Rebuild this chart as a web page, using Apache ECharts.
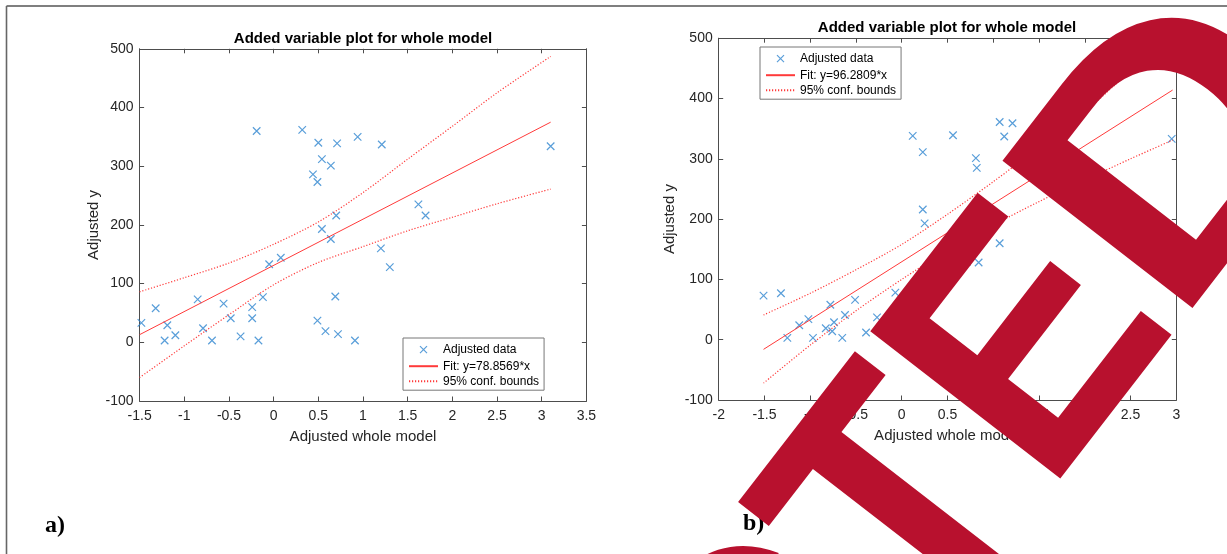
<!DOCTYPE html>
<html>
<head>
<meta charset="utf-8">
<script src="https://cdn.jsdelivr.net/npm/echarts@6/dist/echarts.min.js"></script>
<style>
  html, body { margin: 0; padding: 0; background: #fff; }
  #chart { width: 1227px; height: 554px; }
</style>
</head>
<body>
<div id="chart"></div>
<script>
// panel a) data
const aDataX = [-1.48, -1.32, -1.22, -1.19, -1.10, -0.85, -0.79, -0.69, -0.56, -0.48, -0.37, -0.24, -0.24, -0.19, -0.17, -0.12, -0.05, 0.08, 0.32, 0.44,
  0.49, 0.49, 0.50, 0.54, 0.54, 0.58, 0.64, 0.64, 0.69, 0.70, 0.71, 0.72, 0.91, 0.94, 1.20, 1.21, 1.30, 1.62, 1.70, 3.10]
const aDataY = [33, 58, 3, 29, 12, 73, 24, 3, 66, 41, 10, 41, 60, 360, 3, 77, 133, 144, 362, 286,
  273, 37, 340, 312, 193, 19, 301, 176, 78, 216, 339, 14, 3, 350, 160, 337, 128, 235, 216, 334]
const aFitX = [-1.5, 3.1]
const aFitY = [13, 375]
const aBoundX = [-1.5, -1, -0.5, 0, 0.5, 1, 1.5, 2, 2.5, 3.1]
const aUpper = [86, 110, 135, 167, 205, 255, 312, 368, 425, 487]
const aLower = [-60, -6, 47, 98, 136, 163, 190, 213, 236, 261]

// panel b) data (points hidden under the stamp are not readable)
const bDataX = [-1.51, -1.32, -1.25, -1.12, -1.02, -0.97, -0.83, -0.78, -0.76, -0.74, -0.65, -0.62, -0.51, -0.39, -0.27,
  -0.07, 0.12, 0.23, 0.23, 0.25, 0.56, 0.71, 0.81, 0.82, 0.84, 1.07, 1.12, 1.21, 1.07, 2.95]
const bDataY = [73, 77, 3, 24, 34, 3, 19, 58, 14, 29, 3, 41, 66, 12, 37,
  78, 338, 311, 216, 193, 339, 129, 301, 285, 128, 361, 337, 359, 160, 333]
const bFitX = [-1.51, 2.96]
const bFitY = [-16, 414]
const bBoundX = [-1.51, -1, -0.5, 0, 0.5, 1, 1.5, 2, 2.5, 2.96]
const bUpper = [41, 77, 116, 158, 208, 262, 319, 378, 445, 497]
const bLower = [-72, -9, 48, 100, 148, 190, 229, 265, 300, 331]

const titleText = 'Added variable plot for whole model'
const xName = 'Adjusted whole model'
const yName = 'Adjusted y'
const legendA = ['Adjusted data', 'Fit: y=78.8569*x', '95% conf. bounds']
const legendB = ['Adjusted data', 'Fit: y=96.2809*x', '95% conf. bounds']

const FONT = '"Liberation Sans", Arial, Helvetica, sans-serif'
const AXIS = '#4d4d4d'
const BLUE = '#2f86d0'
const RED = '#ff3a3a'
const XMARK = 'path://M0,0L1,1M1,0L0,1'
const XMARK_LEGEND = 'path://M-1.57,-0.5L-1.57,-0.5M0,0L1,1M1,0L0,1M2.57,1.5L2.57,1.5'

const pairs = (xs, ys) => xs.map((x, i) => [x, ys[i]])

function xAxis(grid, min, max, top) {
  return {
    type: 'value', gridIndex: grid, min: min, max: max, interval: 0.5,
    position: top ? 'top' : 'bottom',
    name: top ? '' : xName, nameLocation: 'middle', nameGap: 28,
    nameTextStyle: { fontFamily: FONT, fontSize: 15, color: '#262626' },
    axisLine: { show: true, onZero: false, lineStyle: { color: AXIS, width: 1 } },
    axisTick: { show: true, inside: true, length: 4.5, lineStyle: { color: AXIS } },
    axisLabel: { show: !top, fontFamily: FONT, fontSize: 14, color: '#262626', margin: 8, showMinLabel: true, showMaxLabel: true },
    splitLine: { show: false }
  }
}

function yAxis(grid, gap, right) {
  return {
    type: 'value', gridIndex: grid, min: -100, max: 500, interval: 100,
    position: right ? 'right' : 'left',
    name: right ? '' : yName, nameLocation: 'middle', nameGap: gap,
    nameTextStyle: { fontFamily: FONT, fontSize: 15, color: '#262626' },
    axisLine: { show: true, onZero: false, lineStyle: { color: AXIS, width: 1 } },
    axisTick: { show: true, inside: true, length: 4.5, lineStyle: { color: AXIS } },
    axisLabel: { show: !right, fontFamily: FONT, fontSize: 14, color: '#262626', margin: 6, showMinLabel: true, showMaxLabel: true },
    splitLine: { show: false }
  }
}

function panelSeries(ax, names, dx, dy, fx, fy, bx, up, lo) {
  const common = { xAxisIndex: ax, yAxisIndex: ax, silent: true }
  const bound = {
    type: 'line', name: names[2], symbol: 'none', smooth: 0.3,
    itemStyle: { color: RED },
    lineStyle: { color: RED, width: 1.2, type: [1.2, 1.8] }
  }
  return [
    Object.assign({
      type: 'scatter', name: names[0], data: pairs(dx, dy), symbol: XMARK, symbolSize: 7.5,
      itemStyle: { color: 'rgba(0,0,0,0)', borderColor: BLUE, borderWidth: 1.2 }
    }, common),
    Object.assign({
      type: 'line', name: names[1], data: pairs(fx, fy), symbol: 'none',
      itemStyle: { color: RED },
      lineStyle: { color: RED, width: 1 }
    }, common),
    Object.assign({}, bound, common, { data: pairs(bx, up) }),
    Object.assign({}, bound, common, { data: pairs(bx, lo) })
  ]
}

function legend(names, left, top) {
  return {
    data: [
      { name: names[0], icon: XMARK_LEGEND, itemStyle: { color: 'rgba(0,0,0,0)', borderColor: BLUE, borderWidth: 1.2 } },
      { name: names[1], itemStyle: { opacity: 0 } },
      { name: names[2], itemStyle: { opacity: 0 } }
    ],
    left: left, top: top, orient: 'vertical',
    itemWidth: 29, itemHeight: 14, itemGap: 3,
    padding: [4, 5, 3, 5],
    borderColor: '#777', borderWidth: 1, backgroundColor: '#fff',
    selectedMode: false,
    textStyle: { fontFamily: FONT, fontSize: 12, color: '#000' }
  }
}

// stamp over panel b): "REJEC" ends where "TE" starts, the D is a bit wider
const STAMP = '#b8112e'
const stampFont = 'bold 324px "Liberation Sans", Arial, sans-serif'
const stampRot = 0.912
const stampTE = { x: 849.7, y: 593.1, rotation: stampRot, scaleY: 1.078 }
const stampD = { x: 1100.4, y: 269.5, rotation: stampRot, scaleX: 1.2, scaleY: 1.078 }

function stampText(pos, text, align) {
  return Object.assign({ type: 'text', z: 100 }, pos, {
    style: { text: text, font: stampFont, fill: STAMP, align: align, verticalAlign: 'middle', textAlign: align, textVerticalAlign: 'middle' }
  })
}

const chart = echarts.init(document.getElementById('chart'))
chart.setOption({
  animation: false,
  backgroundColor: '#fff',
  title: [
    { text: titleText, left: 363, top: 31, textAlign: 'center', padding: 0,
      textStyle: { fontFamily: FONT, fontSize: 15, fontWeight: 'bold', color: '#000' } },
    { text: titleText, left: 947, top: 20, textAlign: 'center', padding: 0,
      textStyle: { fontFamily: FONT, fontSize: 15, fontWeight: 'bold', color: '#000' } }
  ],
  grid: [
    { left: 139.6, top: 48.8, width: 446.8, height: 352.2, containLabel: false },
    { left: 718.7, top: 38.2, width: 457.6, height: 361.8, containLabel: false }
  ],
  xAxis: [xAxis(0, -1.5, 3.5, false), xAxis(0, -1.5, 3.5, true), xAxis(1, -2, 3, false), xAxis(1, -2, 3, true)],
  yAxis: [yAxis(0, 38, false), yAxis(0, 38, true), yAxis(1, 41, false), yAxis(1, 41, true)],
  legend: [legend(legendA, 403, 338), legend(legendB, 760, 47)],
  series: [].concat(
    panelSeries(0, legendA, aDataX, aDataY, aFitX, aFitY, aBoundX, aUpper, aLower),
    panelSeries(2, legendB, bDataX, bDataY, bFitX, bFitY, bBoundX, bUpper, bLower)
  ),
  graphic: [
    { type: 'line', z: 50, shape: { x1: 6.5, y1: 6, x2: 1227, y2: 6 }, style: { stroke: '#555', lineWidth: 1.6 } },
    { type: 'line', z: 50, shape: { x1: 6.5, y1: 6, x2: 6.5, y2: 554 }, style: { stroke: '#666', lineWidth: 1.6 } },
    { type: 'text', z: 50, left: 45, top: 514,
      style: { text: 'a)', font: 'bold 24px "Liberation Serif", "Times New Roman", serif', fill: '#000' } },
    { type: 'text', z: 50, left: 743, top: 512,
      style: { text: 'b)', font: 'bold 24px "Liberation Serif", "Times New Roman", serif', fill: '#000' } },
    stampText(stampTE, 'REJEC', 'right'),
    stampText(stampTE, 'TE', 'left'),
    stampText(stampD, 'D', 'left')
  ]
})
</script>
</body>
</html>
